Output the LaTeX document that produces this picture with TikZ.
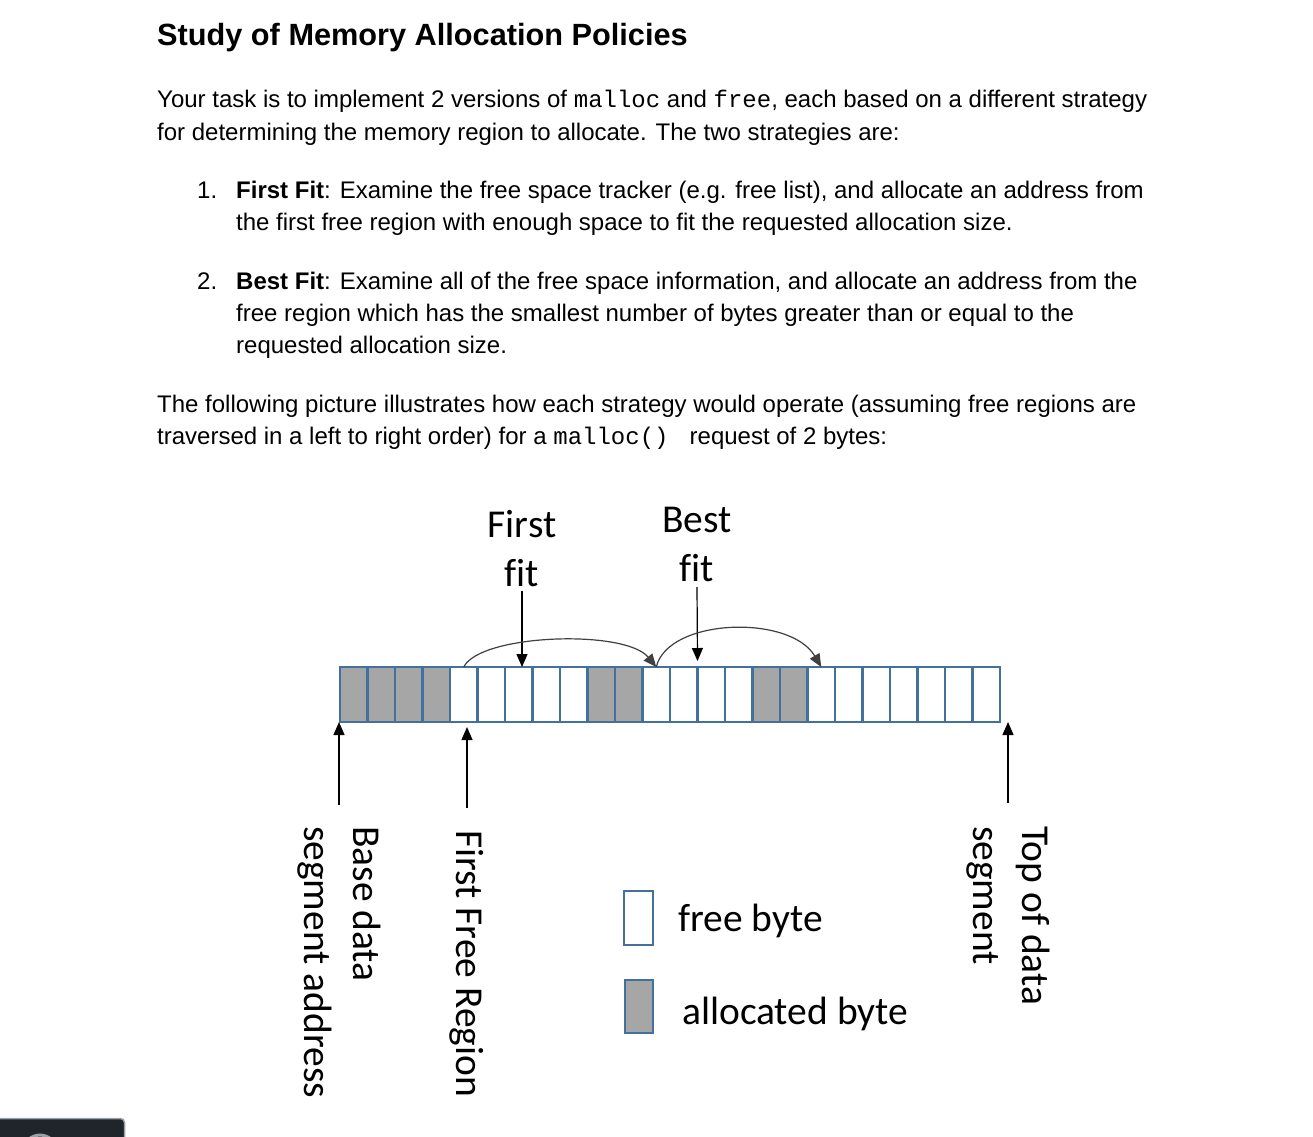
\documentclass[tikz,border=0pt]{standalone}
\usepackage{fontspec}
\setmainfont{Liberation Sans}
\setmonofont{Liberation Mono}
\newfontfamily\calibri[Ligatures=NoCommon]{Carlito}
\usetikzlibrary{arrows.meta,calc}
\definecolor{cellblue}{HTML}{41719C}
\definecolor{cellgray}{HTML}{A6A6A6}
\definecolor{uidark}{HTML}{20242B}
\definecolor{uigray}{HTML}{9AA0A6}
\begin{document}
\begin{tikzpicture}[x=1pt,y=-1pt,
  body/.style={anchor=base west, inner sep=0, font=\fontsize{24}{33}\selectfont},
  byte/.style={draw=cellblue, line width=2.4pt, minimum width=27.5pt, minimum height=55pt, inner sep=0, outer sep=0},
  freebyte/.style={byte, fill=white},
  allocbyte/.style={byte, fill=cellgray},
  lbl/.style={font=\calibri\fontsize{39.5}{49}\selectfont, inner sep=0},
  arr/.style={-{Triangle[width=11pt,length=13pt]}, line width=1.2pt, black},
  hop/.style={-{Triangle[width=11pt,length=13pt]}, line width=1.2pt, black!75},
]
\useasboundingbox (0,0) rectangle (1313,1136);
\fill[white] (0,0) rectangle (1313,1136);

% ---- text ----
\node[body, font=\bfseries\fontsize{30.7}{36}\selectfont] (title) at (157,45) {Study of Memory Allocation Policies};
\node[body] (p1a) at (157,107) {Your task is to implement 2 versions of \texttt{malloc} and \texttt{free}, each based on a different strategy};
\node[body] (p1b) at (157,140) {for determining the memory region to allocate. The two strategies are:};
\node[body] (n1) at (197,198) {1.};
\node[body] (i1a) at (236,198) {\textbf{First Fit}: Examine the free space tracker (e.g. free list), and allocate an address from};
\node[body] (i1b) at (236,230) {the first free region with enough space to fit the requested allocation size.};
\node[body] (n2) at (197,289) {2.};
\node[body] (i2a) at (236,289) {\textbf{Best Fit}: Examine all of the free space information, and allocate an address from the};
\node[body] (i2b) at (236,321) {free region which has the smallest number of bytes greater than or equal to the};
\node[body] (i2c) at (236,353) {requested allocation size.};
\node[body] (p2a) at (157,412) {The following picture illustrates how each strategy would operate (assuming free regions are};
\node[body] (p2b) at (157,444) {traversed in a left to right order) for a \texttt{malloc()\ } request of 2 bytes:};

% ---- memory bar ----
\foreach [count=\i] \t in {allocbyte,allocbyte,allocbyte,allocbyte,
  freebyte,freebyte,freebyte,freebyte,freebyte,
  allocbyte,allocbyte,
  freebyte,freebyte,freebyte,freebyte,
  allocbyte,allocbyte,
  freebyte,freebyte,freebyte,freebyte,freebyte,freebyte,freebyte}
  \node[\t] (c\i) at ({340+27.5*(\i-0.5)},694.5) {};

% ---- top labels and arrows ----
\node[lbl, align=center, anchor=south] (ff) at (522,587) {First\\fit};
\node[lbl, align=center, anchor=south] (bf) at (697,582) {Best\\fit};
\draw[arr] ([yshift=-4pt]ff.south) -- (ff.south |- c7.north);
\coordinate (bfend) at ($(c13.north east)+(0,-6)$);
\draw[arr] ([yshift=-5pt]bf.south) -- (bfend);
\draw[hop] (c5.north) .. controls (480,634) and (625,629) .. (c12.north);
\draw[hop] (c12.north) .. controls (668,618) and (790,614) .. (c18.north);

% ---- bottom labels and arrows ----
\node[lbl, rotate=-90, align=left, anchor=west] (bds) at (339,826) {Base data\\segment address};
\node[lbl, rotate=-90, anchor=west] (ffr) at (467,830) {First Free Region};
\node[lbl, rotate=-90, align=left, anchor=west] (tds) at (1008,826) {Top of data\\segment};
\draw[arr] ([yshift=21pt]bds.west) -- (bds.west |- c1.south);
\draw[arr] ([yshift=22pt]ffr.west) -- ($(ffr.west |- c5.south)+(0,5)$);
\draw[arr] ([yshift=23pt]tds.west) -- (tds.west |- c24.south);

% ---- legend ----
\node[freebyte, minimum width=29pt, minimum height=54pt, line width=2pt] (lf) at (638.5,918) {};
\node[allocbyte, minimum width=28pt, minimum height=53pt, line width=2pt] (la) at (639,1006.5) {};
\node[lbl, anchor=base west] (lft) at (678,931) {free byte};
\node[lbl, anchor=base west] (lat) at (682,1024) {allocated byte};

% ---- corner widget ----
\fill[fill=uidark, draw=uigray, line width=1.5pt, rounded corners=4pt] (-5,1118.5) rectangle (124.5,1150);
\draw[uigray, line width=3pt] (40,1152) circle[radius=17pt];
\end{tikzpicture}
\end{document}
